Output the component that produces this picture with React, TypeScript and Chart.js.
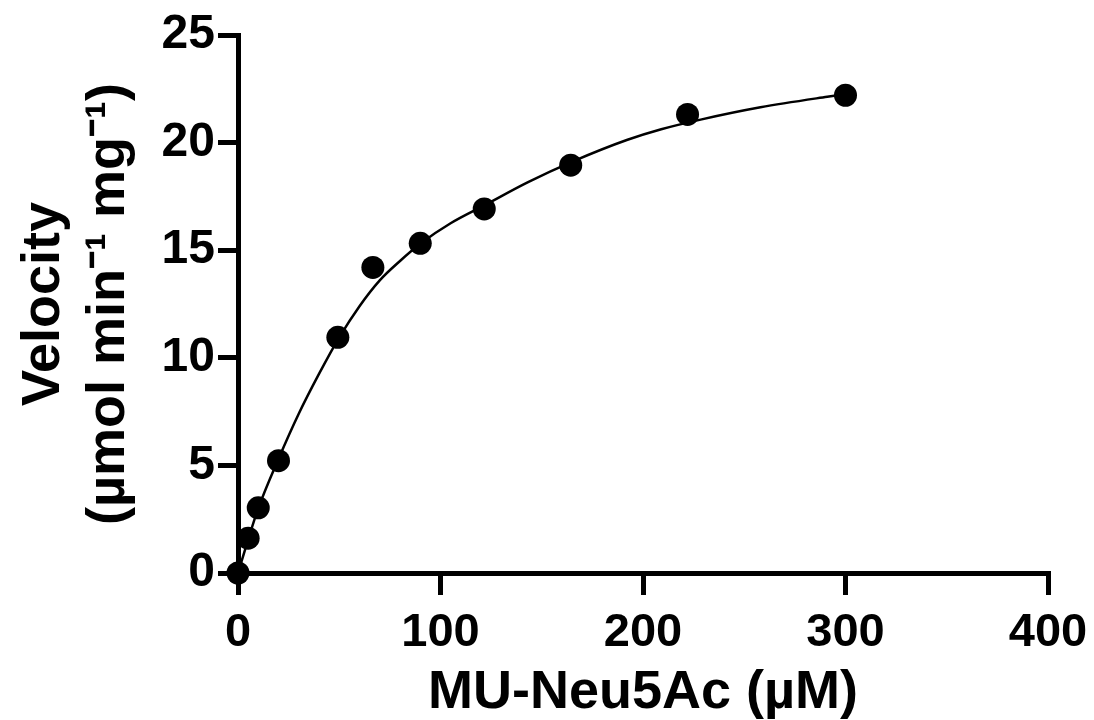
import React, { useEffect, useRef } from "react";
import { Chart, registerables } from "chart.js";

Chart.register(...registerables);

// Measured substrate concentrations (µM) and velocities
const substrate = [0, 5, 10, 20, 49.3, 66.6, 90, 121.6, 164.3, 222, 300];
const velocity = [0, 1.62, 3.03, 5.22, 10.95, 14.2, 15.32, 16.92, 18.95, 21.31, 22.2];

// Fitted curve
const fitX = [0, 5, 10, 20, 30, 40, 50, 60, 70, 80, 90, 105, 122, 143, 166, 192, 209, 229, 258, 291, 300];
const fitY = [0, 1.55, 3.0, 5.3, 7.4, 9.25, 10.95, 12.4, 13.6, 14.5, 15.3, 16.25, 17.1, 18.15, 19.15, 20.12, 20.62, 21.08, 21.64, 22.13, 22.25];

// Axis ticks
const xTickValues = [0, 100, 200, 300, 400];
const yTickValues = [0, 5, 10, 15, 20, 25];

const xTitle = "MU-Neu5Ac (µM)";
const yTitle = ["Velocity", "(µmol min\u207B\u00B9 mg\u207B\u00B9)"];

const FONT = "'Liberation Sans', Arial, Helvetica, sans-serif";

export default function App() {
  const ref = useRef<HTMLCanvasElement | null>(null);

  useEffect(() => {
    if (!ref.current) return;
    const axisGrid = {
      drawOnChartArea: false,
      drawTicks: true,
      tickLength: 20,
      lineWidth: 5,
      color: "#000",
    };
    const chart = new Chart(ref.current, {
      type: "scatter",
      data: {
        datasets: [
          {
            type: "line",
            data: fitX.map((x, i) => ({ x, y: fitY[i] })),
            borderColor: "#000",
            borderWidth: 2.5,
            pointRadius: 0,
            cubicInterpolationMode: "monotone",
            fill: false,
            clip: false,
          } as any,
          {
            data: substrate.map((x, i) => ({ x, y: velocity[i] })),
            backgroundColor: "#000",
            borderColor: "#000",
            borderWidth: 0,
            pointRadius: 11.5,
            pointHoverRadius: 11.5,
            clip: false,
          } as any,
        ],
      },
      options: {
        responsive: false,
        animation: false,
        devicePixelRatio: 1,
        events: [],
        layout: { padding: { left: 12, top: 35, right: 46, bottom: 0 } },
        plugins: { legend: { display: false }, tooltip: { enabled: false } },
        scales: {
          x: {
            type: "linear",
            min: 0,
            max: 400,
            afterBuildTicks: (s: any) => {
              s.ticks = xTickValues.map((v) => ({ value: v }));
            },
            afterFit: (s: any) => {
              s.height = 147;
              s.paddingRight = 30;
              s.paddingLeft = 0;
            },
            grid: { ...axisGrid, tickLength: 22 },
            border: { display: true, width: 5, color: "#000" },
            ticks: {
              color: "#000",
              padding: 10,
              font: { family: FONT, size: 47, weight: "bold" },
            },
            title: {
              display: true,
              text: xTitle,
              color: "#000",
              padding: 0,
              font: { family: FONT, size: 54, weight: "bold", lineHeight: 1.0 },
            },
          },
          y: {
            type: "linear",
            min: 0,
            max: 25,
            afterBuildTicks: (s: any) => {
              s.ticks = yTickValues.map((v) => ({ value: v }));
            },
            afterFit: (s: any) => {
              s.width = 226;
            },
            grid: axisGrid,
            border: { display: true, width: 5, color: "#000" },
            ticks: {
              color: "#000",
              padding: 3,
              font: { family: FONT, size: 48, weight: "bold" },
            },
            title: {
              display: true,
              text: yTitle,
              color: "#000",
              padding: 0,
              font: { family: FONT, size: 54, weight: "bold", lineHeight: 1.2 },
            },
          },
        },
      } as any,
    });
    return () => chart.destroy();
  }, []);

  return (
    <canvas
      ref={ref}
      width={1094}
      height={720}
      style={{ position: "fixed", left: 0, top: 0, width: 1094, height: 720, background: "#fff" }}
    />
  );
}
